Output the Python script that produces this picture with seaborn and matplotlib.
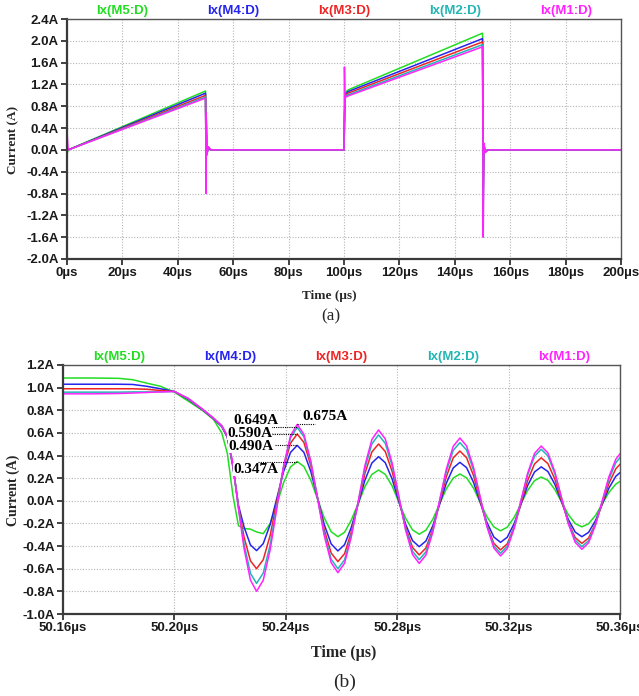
import matplotlib
matplotlib.use("Agg")
import matplotlib.pyplot as plt
import numpy as np
import pandas as pd
import seaborn as sns

# ---------------------------------------------------------------- data
SERIES = ["Ix(M5:D)", "Ix(M4:D)", "Ix(M3:D)", "Ix(M2:D)", "Ix(M1:D)"]
COLORS = ["#22dd22", "#2424ee", "#ee2424", "#22b5b5", "#ff22ff"]

# (a) full switching period, time in µs
T_A = [0.0, 0.4, 50.0, 50.23, 50.245, 50.5, 51.0, 52.0, 100.0, 100.15,
       100.35, 101.5, 150.0, 150.25, 150.5, 151.0, 152.0, 200.0]
M5_A = [-0.08, 0.00, 1.08, -0.29, 0.347, -0.04, 0.02, 0.00, 0.00, 0.50,
        1.05, 1.10, 2.14, -0.50, 0.05, -0.02, 0.00, 0.00]
M4_A = [0.00, 0.00, 1.04, -0.44, 0.490, -0.05, 0.03, 0.00, 0.00, 0.50,
        1.02, 1.07, 2.04, -0.70, 0.06, -0.02, 0.00, 0.00]
M3_A = [0.00, 0.00, 1.00, -0.60, 0.590, -0.06, 0.04, 0.00, 0.00, 0.50,
        1.00, 1.04, 1.98, -0.90, 0.08, -0.03, 0.00, 0.00]
M2_A = [0.00, 0.00, 0.97, -0.73, 0.649, -0.08, 0.05, 0.00, 0.00, 0.50,
        0.98, 1.01, 1.93, -1.20, 0.10, -0.04, 0.00, 0.00]
M1_A = [0.33, 0.00, 0.95, -0.80, 0.675, -0.10, 0.06, 0.00, 0.00, 1.52,
        0.96, 0.99, 1.89, -1.60, 0.12, -0.05, 0.00, 0.00]

# (b) turn-off transient around 50.2 µs
T_B = [50.160, 50.170, 50.180, 50.185, 50.190, 50.195, 50.200, 50.205,
       50.210, 50.214, 50.217, 50.219, 50.221, 50.223, 50.225, 50.2273,
       50.2295, 50.2319, 50.2344, 50.2368, 50.2392, 50.2417, 50.2441,
       50.2465, 50.2490, 50.2514, 50.2538, 50.2563, 50.2587,
       50.2611, 50.2635, 50.2660, 50.2684, 50.2709, 50.2733,
       50.2757, 50.2782, 50.2806, 50.2830, 50.2855, 50.2879,
       50.2903, 50.2928, 50.2952, 50.2976, 50.3001, 50.3025,
       50.3049, 50.3074, 50.3098, 50.3122, 50.3147, 50.3171,
       50.3195, 50.3220, 50.3244, 50.3268, 50.3293, 50.3317,
       50.3341, 50.3366, 50.3390, 50.3414, 50.3439, 50.3463,
       50.3487, 50.3512, 50.3536, 50.3560, 50.3585, 50.3600]
M5_B = [1.085, 1.085, 1.082, 1.070, 1.040, 1.012, 0.960, 0.880,
        0.800, 0.720, 0.600, 0.420, 0.050, -0.220, -0.245, -0.250,
        -0.275, -0.290, -0.200, -0.030, 0.160, 0.300, 0.347,
        0.303, 0.181, 0.015, -0.151, -0.273, -0.317,
        -0.278, -0.170, -0.023, 0.125, 0.233, 0.272,
        0.234, 0.130, -0.012, -0.153, -0.257, -0.295,
        -0.259, -0.162, -0.029, 0.104, 0.201, 0.237,
        0.203, 0.112, -0.014, -0.140, -0.231, -0.265,
        -0.233, -0.146, -0.028, 0.091, 0.178, 0.210,
        0.181, 0.100, -0.010, -0.120, -0.201, -0.230,
        -0.203, -0.129, -0.028, 0.074, 0.148, 0.171]
M4_B = [1.030, 1.030, 1.030, 1.028, 1.012, 0.990, 0.966, 0.895,
        0.805, 0.725, 0.655, 0.560, 0.300, -0.040, -0.230, -0.390,
        -0.440, -0.378, -0.208, 0.025, 0.258, 0.428, 0.490,
        0.428, 0.257, 0.024, -0.210, -0.381, -0.443,
        -0.387, -0.235, -0.027, 0.182, 0.334, 0.390,
        0.337, 0.191, -0.008, -0.206, -0.352, -0.405,
        -0.355, -0.219, -0.033, 0.154, 0.290, 0.340,
        0.293, 0.163, -0.014, -0.190, -0.320, -0.367,
        -0.322, -0.200, -0.034, 0.133, 0.255, 0.300,
        0.259, 0.146, -0.009, -0.163, -0.276, -0.317,
        -0.279, -0.174, -0.031, 0.112, 0.217, 0.249]
M3_B = [0.990, 0.990, 0.990, 0.990, 0.985, 0.975, 0.966, 0.900,
        0.808, 0.728, 0.660, 0.565, 0.310, -0.050, -0.320, -0.530,
        -0.600, -0.520, -0.303, -0.005, 0.293, 0.510, 0.590,
        0.515, 0.308, 0.027, -0.255, -0.462, -0.537,
        -0.467, -0.277, -0.018, 0.242, 0.432, 0.502,
        0.436, 0.257, 0.012, -0.233, -0.412, -0.478,
        -0.417, -0.249, -0.019, 0.211, 0.379, 0.440,
        0.381, 0.222, 0.003, -0.216, -0.376, -0.434,
        -0.380, -0.231, -0.027, 0.177, 0.326, 0.380,
        0.329, 0.191, 0.002, -0.187, -0.325, -0.376,
        -0.329, -0.200, -0.023, 0.154, 0.283, 0.323]
M2_B = [0.960, 0.960, 0.960, 0.962, 0.962, 0.963, 0.966, 0.902,
        0.810, 0.730, 0.662, 0.570, 0.320, -0.060, -0.380, -0.640,
        -0.730, -0.638, -0.385, -0.041, 0.304, 0.557, 0.649,
        0.565, 0.337, 0.025, -0.288, -0.516, -0.600,
        -0.521, -0.305, -0.009, 0.287, 0.503, 0.582,
        0.508, 0.307, 0.031, -0.245, -0.446, -0.520,
        -0.451, -0.262, -0.003, 0.256, 0.445, 0.514,
        0.449, 0.270, 0.026, -0.219, -0.398, -0.463,
        -0.402, -0.234, -0.004, 0.226, 0.394, 0.455,
        0.397, 0.240, 0.025, -0.190, -0.347, -0.405,
        -0.352, -0.206, -0.008, 0.191, 0.337, 0.382]
M1_B = [0.945, 0.945, 0.948, 0.952, 0.957, 0.962, 0.966, 0.905,
        0.812, 0.732, 0.665, 0.575, 0.330, -0.070, -0.420, -0.700,
        -0.800, -0.701, -0.431, -0.063, 0.306, 0.576, 0.675,
        0.587, 0.348, 0.020, -0.308, -0.547, -0.635,
        -0.551, -0.320, -0.005, 0.311, 0.542, 0.626,
        0.547, 0.331, 0.037, -0.258, -0.474, -0.553,
        -0.479, -0.276, 0.001, 0.278, 0.481, 0.555,
        0.485, 0.295, 0.034, -0.227, -0.417, -0.487,
        -0.422, -0.244, -0.002, 0.241, 0.419, 0.484,
        0.423, 0.256, 0.028, -0.200, -0.367, -0.428,
        -0.371, -0.215, -0.001, 0.212, 0.368, 0.416]

# axis ticks and their labels
XTICKS_A = [0, 20, 40, 60, 80, 100, 120, 140, 160, 180, 200]
XLABELS_A = ["0µs", "20µs", "40µs", "60µs", "80µs", "100µs", "120µs",
             "140µs", "160µs", "180µs", "200µs"]
YTICKS_A = [-2.0, -1.6, -1.2, -0.8, -0.4, 0.0, 0.4, 0.8, 1.2, 1.6, 2.0, 2.4]
YLABELS_A = ["-2.0A", "-1.6A", "-1.2A", "-0.8A", "-0.4A", "0.0A", "0.4A",
             "0.8A", "1.2A", "1.6A", "2.0A", "2.4A"]
XTICKS_B = [50.16, 50.20, 50.24, 50.28, 50.32, 50.36]
XLABELS_B = ["50.16µs", "50.20µs", "50.24µs", "50.28µs", "50.32µs", "50.36µs"]
YTICKS_B = [-1.0, -0.8, -0.6, -0.4, -0.2, 0.0, 0.2, 0.4, 0.6, 0.8, 1.0, 1.2]
YLABELS_B = ["-1.0A", "-0.8A", "-0.6A", "-0.4A", "-0.2A", "0.0A", "0.2A",
             "0.4A", "0.6A", "0.8A", "1.0A", "1.2A"]


def long_frame(t, columns):
    parts = [pd.DataFrame({"t": t, "I": vals, "series": name})
             for name, vals in zip(SERIES, columns)]
    return pd.concat(parts, ignore_index=True)


df_a = long_frame(T_A, [M5_A, M4_A, M3_A, M2_A, M1_A])
df_b = long_frame(T_B, [M5_B, M4_B, M3_B, M2_B, M1_B])

# ---------------------------------------------------------------- style
sns.set_theme(style="white")
plt.rcParams["font.family"] = ["Liberation Sans", "DejaVu Sans"]
SERIF = ["Liberation Serif", "DejaVu Serif"]
TICK_FS = 9.5

fig = plt.figure(figsize=(6.39, 6.96), dpi=100)
ax_a = fig.add_axes([0.1049, 0.6279, 0.8670, 0.3448])
ax_b = fig.add_axes([0.0986, 0.1178, 0.8717, 0.3578])


def style_axes(ax, xt, xl, yt, yl, xlim, ylim):
    ax.set_xlim(*xlim)
    ax.set_ylim(*ylim)
    ax.set_xticks(xt)
    ax.set_xticklabels(xl)
    ax.set_yticks(yt)
    ax.set_yticklabels(yl)
    ax.set_xlabel("")
    ax.set_ylabel("")
    ax.grid(True, color="#b5b5b5", linestyle=(0, (1, 1.5)), linewidth=0.8)
    ax.set_axisbelow(True)
    for side in ("left", "bottom"):
        ax.spines[side].set_linewidth(1.6)
        ax.spines[side].set_color("#3a3a3a")
    for side in ("top", "right"):
        ax.spines[side].set_linewidth(1.0)
        ax.spines[side].set_color("#555555")
    ax.tick_params(axis="both", which="major", direction="out", length=4,
                   width=1.3, color="#333333", labelsize=TICK_FS,
                   labelcolor="#1a1a1a", pad=2, bottom=True, left=True)
    for lab in ax.get_xticklabels() + ax.get_yticklabels():
        lab.set_fontweight("bold")


def series_titles(ax, dy):
    for frac, name, col in zip([0.1, 0.3, 0.5, 0.7, 0.9], SERIES, COLORS):
        ax.text(frac, 1 + dy, name, transform=ax.transAxes, ha="center",
                va="center", color=col, fontsize=TICK_FS, fontweight="bold")


for ax, df in ((ax_a, df_a), (ax_b, df_b)):
    sns.lineplot(data=df, x="t", y="I", hue="series", hue_order=SERIES,
                 palette=COLORS, ax=ax, legend=False, sort=False,
                 estimator=None, linewidth=1.1)

style_axes(ax_a, XTICKS_A, XLABELS_A, YTICKS_A, YLABELS_A, (0, 200), (-2.0, 2.4))
style_axes(ax_b, XTICKS_B, XLABELS_B, YTICKS_B, YLABELS_B, (50.16, 50.36), (-1.0, 1.2))
series_titles(ax_a, 0.034)
series_titles(ax_b, 0.031)

# first-peak call-outs in (b): text anchor and leader-line span per series
t_b = np.array(T_B)
first_peak = (t_b > 50.235) & (t_b < 50.255)
callouts = {
    "Ix(M5:D)": ((50.2210, 0.281), (50.2300, 50.2441)),
    "Ix(M4:D)": ((50.2192, 0.482), (50.2361, 50.2441)),
    "Ix(M3:D)": ((50.2189, 0.592), (50.2350, 50.2441)),
    "Ix(M2:D)": ((50.2210, 0.707), (50.2307, 50.2441)),
    "Ix(M1:D)": ((50.2458, 0.741), (50.2441, 50.2505)),
}
for name, vals in zip(SERIES, [M5_B, M4_B, M3_B, M2_B, M1_B]):
    peak = float(np.max(np.array(vals)[first_peak]))
    (tx, ty), (x0, x1) = callouts[name]
    ax_b.plot([x0, x1], [peak, peak], color="black", linestyle=(0, (1, 1)),
              linewidth=0.8, zorder=4)
    ax_b.text(tx, ty, f"{peak:.3f}A", ha="left", va="center",
              family=SERIF, fontweight="bold", fontsize=11, color="black",
              zorder=6, bbox=dict(facecolor="white", edgecolor="none", pad=0))

# axis titles and panel tags
fig.text(0.0203, 0.7989, "Current (A)", rotation=90, ha="center", va="center",
         family=SERIF, fontweight="bold", fontsize=9.5)
fig.text(0.0203, 0.2960, "Current (A)", rotation=90, ha="center", va="center",
         family=SERIF, fontweight="bold", fontsize=10)
fig.text(0.5149, 0.5747, "Time (µs)", ha="center", va="center",
         family=SERIF, fontweight="bold", fontsize=9.5)
fig.text(0.5383, 0.0618, "Time (µs)", ha="center", va="center",
         family=SERIF, fontweight="bold", fontsize=11.5)
fig.text(0.5180, 0.5460, "(a)", ha="center", va="center", family=SERIF,
         fontsize=12.3)
fig.text(0.5390, 0.0201, "(b)", ha="center", va="center", family=SERIF,
         fontsize=14)

fig.savefig("out.png", dpi=100, facecolor="white")
